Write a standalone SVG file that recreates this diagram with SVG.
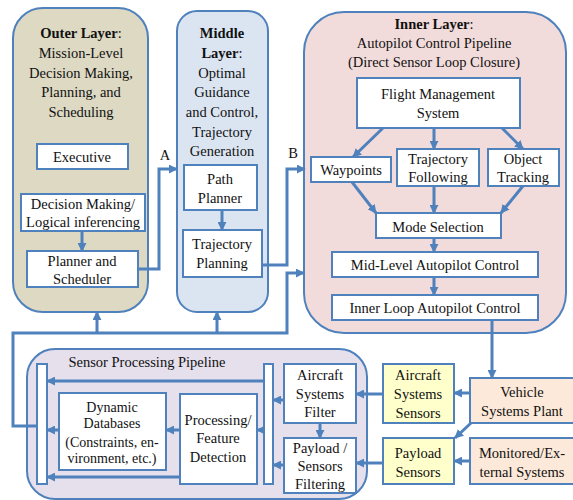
<svg xmlns="http://www.w3.org/2000/svg" width="573" height="500" viewBox="0 0 573 500" font-family="'Liberation Serif', 'Times New Roman', serif">
<style>
text{font-family:'Liberation Serif','Times New Roman',serif;font-size:14.5px;fill:#111;text-anchor:middle}
.b{font-weight:bold}
.sm{font-size:14px}
.cont{stroke:#4f81bd;stroke-width:2}
.box{fill:#fff;stroke:#4f81bd;stroke-width:2}
.yel{fill:#ffffcc;stroke:#4f81bd;stroke-width:2}
.pch{fill:#fde9d9;stroke:#4f81bd;stroke-width:2}
.c{fill:none;stroke:#4f81bd;stroke-width:3}
.a{marker-end:url(#ah)}
</style>
<defs>
<marker id="ah" viewBox="0 0 10 10" refX="9" refY="5" markerWidth="9" markerHeight="9" markerUnits="userSpaceOnUse" orient="auto">
<path d="M0,0 L10,5 L0,10 z" fill="#4f81bd"/>
</marker>
</defs>
<rect width="573" height="500" fill="#fff"/>

<g id="outer">
<rect class="cont" x="13" y="8" width="135" height="304" rx="30" fill="#ddd9c3"/>
<text x="81" y="38"><tspan class="b">Outer Layer</tspan>:</text>
<text x="81" y="58">Mission-Level</text>
<text x="81" y="78">Decision Making,</text>
<text x="81" y="97">Planning, and</text>
<text x="81" y="117">Scheduling</text>
</g>
<g id="executive">
<rect class="box" x="37" y="144" width="91" height="25"/>
<text x="82" y="162">Executive</text>
</g>
<g id="decision">
<rect class="box" x="21" y="194" width="124" height="37"/>
<text x="83" y="209">Decision Making/</text>
<text x="83" y="227">Logical inferencing</text>
</g>
<g id="planner">
<rect class="box" x="27" y="251" width="111" height="36"/>
<text x="82" y="266">Planner and</text>
<text x="82" y="284">Scheduler</text>
</g>

<g id="middle">
<rect class="cont" x="177" y="11" width="91" height="301" rx="20" fill="#dbe5f1"/>
<text x="222" y="38" class="b">Middle</text>
<text x="222" y="58"><tspan class="b">Layer</tspan>:</text>
<text x="222" y="78">Optimal</text>
<text x="222" y="97">Guidance</text>
<text x="222" y="117">and Control,</text>
<text x="222" y="137">Trajectory</text>
<text x="222" y="156">Generation</text>
</g>
<g id="pathplanner">
<rect class="box" x="184" y="165" width="73" height="45"/>
<text x="220" y="184">Path</text>
<text x="220" y="203">Planner</text>
</g>
<g id="trajplanning">
<rect class="box" x="183" y="230" width="79" height="47"/>
<text x="222" y="249">Trajectory</text>
<text x="222" y="268">Planning</text>
</g>

<g id="inner">
<rect class="cont" x="304" y="12" width="262" height="321" rx="40" fill="#f2dcdb"/>
<text x="434" y="29"><tspan class="b">Inner Layer</tspan>:</text>
<text x="434" y="48">Autopilot Control Pipeline</text>
<text x="434" y="67">(Direct Sensor Loop Closure)</text>
</g>
<g id="fms">
<rect class="box" x="357" y="78" width="163" height="50"/>
<text x="438" y="99">Flight Management</text>
<text x="438" y="118">System</text>
</g>
<g id="waypoints">
<rect class="box" x="311" y="157" width="80" height="25"/>
<text x="351" y="175">Waypoints</text>
</g>
<g id="trajfollow">
<rect class="box" x="397" y="149" width="82" height="37"/>
<text x="438" y="164">Trajectory</text>
<text x="438" y="182">Following</text>
</g>
<g id="objtrack">
<rect class="box" x="488" y="149" width="71" height="37"/>
<text x="523" y="164">Object</text>
<text x="523" y="182">Tracking</text>
</g>
<g id="mode">
<rect class="box" x="376" y="213" width="125" height="25"/>
<text x="438" y="232">Mode Selection</text>
</g>
<g id="midlevel">
<rect class="box" x="332" y="252" width="206" height="25"/>
<text x="435" y="270">Mid-Level Autopilot Control</text>
</g>
<g id="innerloop">
<rect class="box" x="332" y="295" width="206" height="25"/>
<text x="435" y="313">Inner Loop Autopilot Control</text>
</g>

<g id="sensor">
<rect class="cont" x="27" y="349" width="340" height="150" rx="28" fill="#e5e0ec"/>
<text x="147" y="367">Sensor Processing Pipeline</text>
</g>
<g id="leftbar"><rect class="box" x="37" y="364" width="10" height="120"/></g>
<g id="rightbar"><rect class="box" x="264" y="364" width="9" height="120"/></g>
<g id="databases">
<rect class="box" x="59" y="393" width="107" height="77"/>
<text class="sm" x="112" y="412">Dynamic</text>
<text class="sm" x="112" y="428">Databases</text>
<text class="sm" x="112" y="447">(Constraints, en-</text>
<text class="sm" x="112" y="463">vironment, etc.)</text>
</g>
<g id="processing">
<rect class="box" x="180" y="394" width="77" height="90"/>
<text x="218" y="425">Processing/</text>
<text x="218" y="443">Feature</text>
<text x="218" y="462">Detection</text>
</g>
<g id="acfilter">
<rect class="box" x="284" y="364" width="72" height="59"/>
<text x="320" y="380">Aircraft</text>
<text x="320" y="399">Systems</text>
<text x="320" y="417">Filter</text>
</g>
<g id="plfilter">
<rect class="box" x="284" y="438" width="72" height="55"/>
<text x="320" y="453">Payload /</text>
<text x="320" y="471">Sensors</text>
<text x="320" y="489">Filtering</text>
</g>
<g id="acsensors">
<rect class="yel" x="383" y="364" width="71" height="59"/>
<text x="418" y="380">Aircraft</text>
<text x="418" y="399">Systems</text>
<text x="418" y="418">Sensors</text>
</g>
<g id="plsensors">
<rect class="yel" x="383" y="438" width="71" height="46"/>
<text x="418" y="458">Payload</text>
<text x="418" y="477">Sensors</text>
</g>
<g id="vehicle">
<rect class="pch" x="470" y="378" width="106" height="45"/>
<text x="522" y="397">Vehicle</text>
<text x="522" y="416">Systems Plant</text>
</g>
<g id="monitored">
<rect class="pch" x="470" y="438" width="106" height="46"/>
<text x="522" y="458">Monitored/Ex-</text>
<text x="522" y="477">ternal Systems</text>
</g>

<g id="connectors">
<path class="c a" d="M138 269 H159 V169 H177"/>
<path class="c a" d="M262 265 H287 V169 H305"/>
<path class="c a" d="M37 426 H13 V333 H287 V273 H304"/>
<path class="c a" d="M97 333 V312"/>
<path class="c a" d="M217 333 V312"/>
<path class="c a" d="M82 231 V251"/>
<path class="c a" d="M222 210 V230"/>
<path class="c a" d="M383 128 L353 157"/>
<path class="c a" d="M434 128 V149"/>
<path class="c a" d="M502 128 L523 149"/>
<path class="c a" d="M352 182 L376 213"/>
<path class="c a" d="M434 186 V213"/>
<path class="c a" d="M523 186 L501 213"/>
<path class="c a" d="M434 238 V252"/>
<path class="c a" d="M434 277 V295"/>
<path class="c a" d="M492 320 V378"/>
<path class="c a" d="M470 393 H454"/>
<path class="c a" d="M471 423 L455 438"/>
<path class="c a" d="M470 461 H454"/>
<path class="c a" d="M383 394 H356"/>
<path class="c a" d="M383 463 H356"/>
<path class="c a" d="M320 423 V438"/>
<path class="c a" d="M284 400 H273"/>
<path class="c a" d="M284 465 H273"/>
<path class="c a" d="M264 430 H257"/>
<path class="c a" d="M180 430 H166"/>
<path class="c a" d="M59 430 H47"/>
<path class="c a" d="M264 381 H47"/>
<path class="c a" d="M180 477 H47"/>
<text x="165" y="160">A</text>
<text x="293" y="158">B</text>
</g>
</svg>
